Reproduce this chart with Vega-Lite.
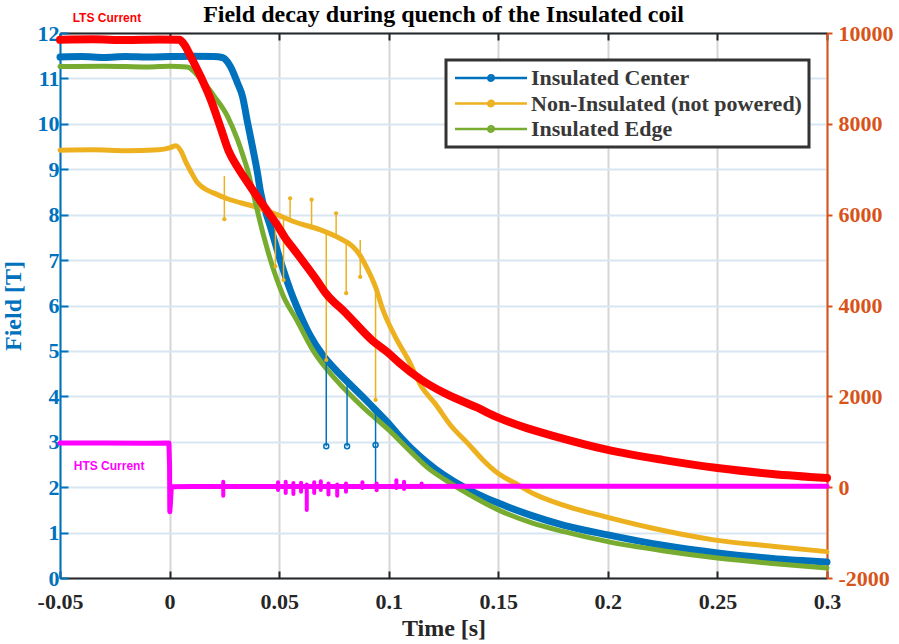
{
  "$schema": "https://vega.github.io/schema/vega-lite/v6.json",
  "width": 767,
  "height": 545,
  "autosize": "none",
  "padding": {"left": 60, "top": 33, "right": 72, "bottom": 66},
  "background": "white",
  "title": {"text": "Field decay during quench of the Insulated coil", "font": "Liberation Serif", "fontSize": 24, "fontWeight": "bold", "color": "#000000", "anchor": "middle", "offset": 10, "dy": 25},
  "config": {"view": {"stroke": null}, "legend": {"strokeWidth": 3}},
  "datasets": {
    "field": [
      {"s": "Insulated Center", "t": -0.05, "v": 11.47},
      {"s": "Insulated Center", "t": -0.04, "v": 11.48},
      {"s": "Insulated Center", "t": -0.03, "v": 11.46},
      {"s": "Insulated Center", "t": -0.02, "v": 11.48},
      {"s": "Insulated Center", "t": -0.01, "v": 11.47},
      {"s": "Insulated Center", "t": 0, "v": 11.48},
      {"s": "Insulated Center", "t": 0.01, "v": 11.49},
      {"s": "Insulated Center", "t": 0.02, "v": 11.48},
      {"s": "Insulated Center", "t": 0.024, "v": 11.46},
      {"s": "Insulated Center", "t": 0.0277, "v": 11.27},
      {"s": "Insulated Center", "t": 0.031, "v": 10.9},
      {"s": "Insulated Center", "t": 0.0333, "v": 10.6},
      {"s": "Insulated Center", "t": 0.0355, "v": 10.05},
      {"s": "Insulated Center", "t": 0.0378, "v": 9.5},
      {"s": "Insulated Center", "t": 0.04, "v": 8.95},
      {"s": "Insulated Center", "t": 0.0415, "v": 8.5},
      {"s": "Insulated Center", "t": 0.046, "v": 7.74},
      {"s": "Insulated Center", "t": 0.0505, "v": 7.0},
      {"s": "Insulated Center", "t": 0.055, "v": 6.35},
      {"s": "Insulated Center", "t": 0.058, "v": 5.98},
      {"s": "Insulated Center", "t": 0.064, "v": 5.35},
      {"s": "Insulated Center", "t": 0.07, "v": 4.9},
      {"s": "Insulated Center", "t": 0.0755, "v": 4.6},
      {"s": "Insulated Center", "t": 0.0837, "v": 4.2},
      {"s": "Insulated Center", "t": 0.09, "v": 3.9},
      {"s": "Insulated Center", "t": 0.095, "v": 3.65},
      {"s": "Insulated Center", "t": 0.1, "v": 3.4},
      {"s": "Insulated Center", "t": 0.105, "v": 3.12},
      {"s": "Insulated Center", "t": 0.1137, "v": 2.7},
      {"s": "Insulated Center", "t": 0.1213, "v": 2.4},
      {"s": "Insulated Center", "t": 0.13, "v": 2.12},
      {"s": "Insulated Center", "t": 0.14, "v": 1.86},
      {"s": "Insulated Center", "t": 0.15, "v": 1.65},
      {"s": "Insulated Center", "t": 0.165, "v": 1.38},
      {"s": "Insulated Center", "t": 0.18, "v": 1.16},
      {"s": "Insulated Center", "t": 0.2, "v": 0.95},
      {"s": "Insulated Center", "t": 0.225, "v": 0.72},
      {"s": "Insulated Center", "t": 0.25, "v": 0.55},
      {"s": "Insulated Center", "t": 0.275, "v": 0.43},
      {"s": "Insulated Center", "t": 0.3, "v": 0.35},

      {"s": "Non-Insulated (not powered)", "t": -0.05, "v": 9.42},
      {"s": "Non-Insulated (not powered)", "t": -0.035, "v": 9.43},
      {"s": "Non-Insulated (not powered)", "t": -0.02, "v": 9.41},
      {"s": "Non-Insulated (not powered)", "t": -0.005, "v": 9.43},
      {"s": "Non-Insulated (not powered)", "t": 0, "v": 9.47},
      {"s": "Non-Insulated (not powered)", "t": 0.003, "v": 9.52},
      {"s": "Non-Insulated (not powered)", "t": 0.0052, "v": 9.4},
      {"s": "Non-Insulated (not powered)", "t": 0.0075, "v": 9.15},
      {"s": "Non-Insulated (not powered)", "t": 0.0097, "v": 8.95},
      {"s": "Non-Insulated (not powered)", "t": 0.0125, "v": 8.72},
      {"s": "Non-Insulated (not powered)", "t": 0.0157, "v": 8.58},
      {"s": "Non-Insulated (not powered)", "t": 0.02, "v": 8.48},
      {"s": "Non-Insulated (not powered)", "t": 0.0264, "v": 8.35},
      {"s": "Non-Insulated (not powered)", "t": 0.0385, "v": 8.18},
      {"s": "Non-Insulated (not powered)", "t": 0.049, "v": 8.0},
      {"s": "Non-Insulated (not powered)", "t": 0.0565, "v": 7.85},
      {"s": "Non-Insulated (not powered)", "t": 0.0686, "v": 7.67},
      {"s": "Non-Insulated (not powered)", "t": 0.0776, "v": 7.48},
      {"s": "Non-Insulated (not powered)", "t": 0.0836, "v": 7.3},
      {"s": "Non-Insulated (not powered)", "t": 0.087, "v": 7.1},
      {"s": "Non-Insulated (not powered)", "t": 0.0897, "v": 6.86},
      {"s": "Non-Insulated (not powered)", "t": 0.0942, "v": 6.38},
      {"s": "Non-Insulated (not powered)", "t": 0.097, "v": 5.95},
      {"s": "Non-Insulated (not powered)", "t": 0.103, "v": 5.31},
      {"s": "Non-Insulated (not powered)", "t": 0.109, "v": 4.8},
      {"s": "Non-Insulated (not powered)", "t": 0.115, "v": 4.21},
      {"s": "Non-Insulated (not powered)", "t": 0.121, "v": 3.85},
      {"s": "Non-Insulated (not powered)", "t": 0.1288, "v": 3.33},
      {"s": "Non-Insulated (not powered)", "t": 0.136, "v": 2.97},
      {"s": "Non-Insulated (not powered)", "t": 0.143, "v": 2.6},
      {"s": "Non-Insulated (not powered)", "t": 0.15, "v": 2.3},
      {"s": "Non-Insulated (not powered)", "t": 0.158, "v": 2.08},
      {"s": "Non-Insulated (not powered)", "t": 0.1664, "v": 1.85},
      {"s": "Non-Insulated (not powered)", "t": 0.18, "v": 1.6},
      {"s": "Non-Insulated (not powered)", "t": 0.1987, "v": 1.35},
      {"s": "Non-Insulated (not powered)", "t": 0.22, "v": 1.1},
      {"s": "Non-Insulated (not powered)", "t": 0.2483, "v": 0.84},
      {"s": "Non-Insulated (not powered)", "t": 0.275, "v": 0.7},
      {"s": "Non-Insulated (not powered)", "t": 0.3, "v": 0.58},

      {"s": "Insulated Edge", "t": -0.05, "v": 11.26},
      {"s": "Insulated Edge", "t": -0.03, "v": 11.27},
      {"s": "Insulated Edge", "t": -0.01, "v": 11.25},
      {"s": "Insulated Edge", "t": 0, "v": 11.27},
      {"s": "Insulated Edge", "t": 0.008, "v": 11.25},
      {"s": "Insulated Edge", "t": 0.0145, "v": 10.97},
      {"s": "Insulated Edge", "t": 0.0205, "v": 10.6},
      {"s": "Insulated Edge", "t": 0.0265, "v": 10.16},
      {"s": "Insulated Edge", "t": 0.031, "v": 9.65},
      {"s": "Insulated Edge", "t": 0.0335, "v": 9.3},
      {"s": "Insulated Edge", "t": 0.0355, "v": 9.0},
      {"s": "Insulated Edge", "t": 0.0385, "v": 8.4},
      {"s": "Insulated Edge", "t": 0.043, "v": 7.52},
      {"s": "Insulated Edge", "t": 0.0475, "v": 6.78},
      {"s": "Insulated Edge", "t": 0.052, "v": 6.2},
      {"s": "Insulated Edge", "t": 0.058, "v": 5.68},
      {"s": "Insulated Edge", "t": 0.0656, "v": 5.0},
      {"s": "Insulated Edge", "t": 0.076, "v": 4.36},
      {"s": "Insulated Edge", "t": 0.088, "v": 3.77},
      {"s": "Insulated Edge", "t": 0.1, "v": 3.26},
      {"s": "Insulated Edge", "t": 0.1107, "v": 2.75},
      {"s": "Insulated Edge", "t": 0.118, "v": 2.42},
      {"s": "Insulated Edge", "t": 0.1258, "v": 2.16},
      {"s": "Insulated Edge", "t": 0.14, "v": 1.75},
      {"s": "Insulated Edge", "t": 0.15, "v": 1.5},
      {"s": "Insulated Edge", "t": 0.165, "v": 1.22},
      {"s": "Insulated Edge", "t": 0.18, "v": 1.02},
      {"s": "Insulated Edge", "t": 0.2, "v": 0.8},
      {"s": "Insulated Edge", "t": 0.225, "v": 0.6},
      {"s": "Insulated Edge", "t": 0.25, "v": 0.44},
      {"s": "Insulated Edge", "t": 0.275, "v": 0.32},
      {"s": "Insulated Edge", "t": 0.3, "v": 0.22}
    ],
    "spikes": [
      {"s": "Insulated Center", "t": 0.0715, "a": 4.75, "b": 2.9, "d": 2.9},
      {"s": "Insulated Center", "t": 0.081, "a": 4.3, "b": 2.9, "d": 2.9},
      {"s": "Insulated Center", "t": 0.094, "a": 3.7, "b": 2.05, "d": 2.93},
      {"s": "Non-Insulated (not powered)", "t": 0.025, "a": 8.85, "b": 7.9, "d": 7.9},
      {"s": "Non-Insulated (not powered)", "t": 0.0483, "a": 8.0, "b": 6.86, "d": 6.86},
      {"s": "Non-Insulated (not powered)", "t": 0.052, "a": 7.93, "b": 6.56, "d": 6.56},
      {"s": "Non-Insulated (not powered)", "t": 0.055, "a": 8.36, "b": 7.85, "d": 8.36},
      {"s": "Non-Insulated (not powered)", "t": 0.0648, "a": 8.33, "b": 7.7, "d": 8.33},
      {"s": "Non-Insulated (not powered)", "t": 0.0715, "a": 7.62, "b": 4.8, "d": 4.8},
      {"s": "Non-Insulated (not powered)", "t": 0.076, "a": 8.03, "b": 7.5, "d": 8.03},
      {"s": "Non-Insulated (not powered)", "t": 0.0806, "a": 7.45, "b": 6.27, "d": 6.27},
      {"s": "Non-Insulated (not powered)", "t": 0.087, "a": 7.44, "b": 6.63, "d": 6.63},
      {"s": "Non-Insulated (not powered)", "t": 0.094, "a": 6.45, "b": 3.92, "d": 3.92}
    ],
    "lts": [
      {"t": -0.05, "i": 9850},
      {"t": -0.035, "i": 9860},
      {"t": -0.02, "i": 9845},
      {"t": -0.005, "i": 9855},
      {"t": 0.0045, "i": 9850},
      {"t": 0.0065, "i": 9760},
      {"t": 0.0105, "i": 9400},
      {"t": 0.0144, "i": 9020},
      {"t": 0.0189, "i": 8520},
      {"t": 0.0234, "i": 7900},
      {"t": 0.027, "i": 7400},
      {"t": 0.031, "i": 7050},
      {"t": 0.036, "i": 6680},
      {"t": 0.0443, "i": 6100},
      {"t": 0.049, "i": 5780},
      {"t": 0.0533, "i": 5450},
      {"t": 0.0565, "i": 5250},
      {"t": 0.0623, "i": 4880},
      {"t": 0.067, "i": 4570},
      {"t": 0.0713, "i": 4270},
      {"t": 0.0805, "i": 3830},
      {"t": 0.0925, "i": 3230},
      {"t": 0.1, "i": 2950},
      {"t": 0.1045, "i": 2750},
      {"t": 0.115, "i": 2360},
      {"t": 0.1255, "i": 2070},
      {"t": 0.14, "i": 1760},
      {"t": 0.15, "i": 1530},
      {"t": 0.163, "i": 1300},
      {"t": 0.175, "i": 1130},
      {"t": 0.2, "i": 820},
      {"t": 0.225, "i": 600},
      {"t": 0.25, "i": 420},
      {"t": 0.275, "i": 290},
      {"t": 0.3, "i": 200}
    ],
    "hts": [
      {"t": -0.05, "i": 970},
      {"t": -0.03, "i": 975},
      {"t": -0.01, "i": 968},
      {"t": -0.0003, "i": 972},
      {"t": 0, "i": 460},
      {"t": 0.0001, "i": -540},
      {"t": 0.0004, "i": -350},
      {"t": 0.0008, "i": 10},
      {"t": 0.01, "i": 12},
      {"t": 0.05, "i": 15},
      {"t": 0.1, "i": 15},
      {"t": 0.15, "i": 18},
      {"t": 0.2, "i": 18},
      {"t": 0.25, "i": 20},
      {"t": 0.3, "i": 20}
    ],
    "htsSpikes": [
      {"t": 0.0245, "hi": 120, "lo": -190},
      {"t": 0.0495, "hi": 110, "lo": -60},
      {"t": 0.053, "hi": 120, "lo": -130},
      {"t": 0.0565, "hi": 90, "lo": -150},
      {"t": 0.06, "hi": 100, "lo": -100},
      {"t": 0.0626, "hi": 60, "lo": -500},
      {"t": 0.066, "hi": 110, "lo": -130},
      {"t": 0.069, "hi": 130, "lo": -60},
      {"t": 0.0725, "hi": 80, "lo": -160},
      {"t": 0.0765, "hi": 60, "lo": -190},
      {"t": 0.0805, "hi": 80, "lo": -100},
      {"t": 0.088, "hi": 110, "lo": -20},
      {"t": 0.0945, "hi": 80, "lo": -70},
      {"t": 0.1035, "hi": 150, "lo": -20},
      {"t": 0.107, "hi": 120, "lo": -40},
      {"t": 0.115, "hi": 80, "lo": 0}
    ],
    "labels": [
      {"t": -0.0286, "i": 10330, "label": "LTS Current"},
      {"t": -0.0276, "i": 466, "label": "HTS Current"}
    ]
  },
  "layer": [
    {
      "data": {"name": "field"},
      "transform": [{"filter": "datum.s === 'Insulated Center'"}],
      "mark": {"type": "line", "interpolate": "monotone", "strokeCap": "round", "strokeJoin": "round", "strokeWidth": 7},
      "encoding": {
        "x": {"field": "t", "type": "quantitative", "scale": {"domain": [-0.05, 0.3], "nice": false, "zero": false},
          "axis": {"orient": "bottom", "values": [-0.05, 0, 0.05, 0.1, 0.15, 0.2, 0.25, 0.3], "labelExpr": "'' + datum.value", "title": "Time [s]",
            "labelFlush": false, "labelOverlap": false,
            "titleFont": "Liberation Serif", "titleFontSize": 24, "titleFontWeight": "bold", "titleColor": "#262626", "titlePadding": 4,
            "labelFont": "Liberation Serif", "labelFontSize": 22, "labelFontWeight": "bold", "labelColor": "#262626", "labelPadding": 20,
            "domainColor": "#262626", "domainWidth": 2, "tickColor": "#262626", "tickWidth": 2, "tickSize": -7,
            "grid": true, "gridColor": "#d6d6d6", "gridWidth": 2}},
        "y": {"field": "v", "type": "quantitative", "scale": {"domain": [0, 12], "nice": false, "zero": false},
          "axis": {"orient": "left", "values": [0, 1, 2, 3, 4, 5, 6, 7, 8, 9, 10, 11, 12], "title": "Field [T]",
            "labelFlush": false, "labelOverlap": false,
            "titleFont": "Liberation Serif", "titleFontSize": 24, "titleFontWeight": "bold", "titleColor": "#0072BD", "titlePadding": 12,
            "labelFont": "Liberation Serif", "labelFontSize": 22, "labelFontWeight": "bold", "labelColor": "#0072BD", "labelPadding": 9,
            "domainColor": "#0072BD", "domainWidth": 2, "tickColor": "#0072BD", "tickWidth": 2, "tickSize": -8,
            "grid": true, "gridColor": "#d7e6f2", "gridWidth": 2}},
        "color": {"field": "s", "type": "nominal",
          "scale": {"domain": ["Insulated Center", "Non-Insulated (not powered)", "Insulated Edge"], "range": ["#0072BD", "#EDB120", "#77AC30"]},
          "legend": {"orient": "none", "legendX": 386, "legendY": 27, "title": null, "direction": "vertical",
            "symbolType": "M-1,0L7,0M2.7,0A0.3,0.3 0 1,1 3.3,0A0.3,0.3 0 1,1 2.7,0", "symbolSize": 324, "symbolStrokeWidth": 2.5,
            "labelOffset": 56, "labelLimit": 500, "labelFont": "Liberation Serif", "labelFontWeight": "bold", "labelFontSize": 22, "labelColor": "#383838",
            "padding": 7, "rowPadding": 3.5, "strokeColor": "#333333", "fillColor": "#ffffff"}}
      }
    },
    {
      "data": {"name": "field"},
      "transform": [{"filter": "datum.s === 'Non-Insulated (not powered)'"}],
      "mark": {"type": "line", "interpolate": "monotone", "strokeCap": "round", "strokeJoin": "round", "strokeWidth": 5},
      "encoding": {
        "x": {"field": "t", "type": "quantitative", "scale": {"domain": [-0.05, 0.3], "nice": false, "zero": false}, "axis": null},
        "y": {"field": "v", "type": "quantitative", "scale": {"domain": [0, 12], "nice": false, "zero": false}, "axis": null},
        "color": {"field": "s", "type": "nominal",
          "scale": {"domain": ["Insulated Center", "Non-Insulated (not powered)", "Insulated Edge"], "range": ["#0072BD", "#EDB120", "#77AC30"]}}
      }
    },
    {
      "data": {"name": "field"},
      "transform": [{"filter": "datum.s === 'Insulated Edge'"}],
      "mark": {"type": "line", "interpolate": "monotone", "strokeCap": "round", "strokeJoin": "round", "strokeWidth": 5},
      "encoding": {
        "x": {"field": "t", "type": "quantitative", "scale": {"domain": [-0.05, 0.3], "nice": false, "zero": false}, "axis": null},
        "y": {"field": "v", "type": "quantitative", "scale": {"domain": [0, 12], "nice": false, "zero": false}, "axis": null},
        "color": {"field": "s", "type": "nominal",
          "scale": {"domain": ["Insulated Center", "Non-Insulated (not powered)", "Insulated Edge"], "range": ["#0072BD", "#EDB120", "#77AC30"]}}
      }
    },
    {
      "data": {"name": "spikes"},
      "transform": [{"filter": "datum.s === 'Insulated Center'"}],
      "mark": {"type": "rule", "color": "#0072BD", "strokeWidth": 1.5},
      "encoding": {
        "x": {"field": "t", "type": "quantitative", "scale": {"domain": [-0.05, 0.3], "nice": false, "zero": false}, "axis": null},
        "y": {"field": "a", "type": "quantitative", "scale": {"domain": [0, 12], "nice": false, "zero": false}, "axis": null},
        "y2": {"field": "b"}
      }
    },
    {
      "data": {"name": "spikes"},
      "transform": [{"filter": "datum.s === 'Insulated Center'"}],
      "mark": {"type": "point", "color": "#0072BD", "filled": false, "size": 25, "strokeWidth": 1.5, "opacity": 1},
      "encoding": {
        "x": {"field": "t", "type": "quantitative", "scale": {"domain": [-0.05, 0.3], "nice": false, "zero": false}, "axis": null},
        "y": {"field": "d", "type": "quantitative", "scale": {"domain": [0, 12], "nice": false, "zero": false}, "axis": null}
      }
    },
    {
      "data": {"name": "spikes"},
      "transform": [{"filter": "datum.s === 'Non-Insulated (not powered)'"}],
      "mark": {"type": "rule", "color": "#EDB120", "strokeWidth": 1.5},
      "encoding": {
        "x": {"field": "t", "type": "quantitative", "scale": {"domain": [-0.05, 0.3], "nice": false, "zero": false}, "axis": null},
        "y": {"field": "a", "type": "quantitative", "scale": {"domain": [0, 12], "nice": false, "zero": false}, "axis": null},
        "y2": {"field": "b"}
      }
    },
    {
      "data": {"name": "spikes"},
      "transform": [{"filter": "datum.s === 'Non-Insulated (not powered)'"}],
      "mark": {"type": "point", "color": "#EDB120", "filled": true, "size": 18, "opacity": 1},
      "encoding": {
        "x": {"field": "t", "type": "quantitative", "scale": {"domain": [-0.05, 0.3], "nice": false, "zero": false}, "axis": null},
        "y": {"field": "d", "type": "quantitative", "scale": {"domain": [0, 12], "nice": false, "zero": false}, "axis": null}
      }
    },
    {
      "data": {"name": "lts"},
      "mark": {"type": "line", "color": "#FF0000", "strokeWidth": 8, "interpolate": "monotone", "strokeCap": "round", "strokeJoin": "round"},
      "encoding": {
        "x": {"field": "t", "type": "quantitative", "scale": {"domain": [-0.05, 0.3], "nice": false, "zero": false},
          "axis": {"orient": "top", "values": [-0.05, 0, 0.05, 0.1, 0.15, 0.2, 0.25, 0.3], "labels": false, "title": null,
            "domainColor": "#262626", "domainWidth": 2, "tickColor": "#262626", "tickWidth": 2, "tickSize": -7, "grid": false}},
        "y": {"field": "i", "type": "quantitative", "scale": {"domain": [-2000, 10000], "nice": false, "zero": false},
          "axis": {"orient": "right", "values": [-2000, 0, 2000, 4000, 6000, 8000, 10000], "labelExpr": "'' + datum.value", "title": null,
            "labelFlush": false, "labelOverlap": false,
            "labelFont": "Liberation Serif", "labelFontSize": 22, "labelFontWeight": "bold", "labelColor": "#D95319", "labelPadding": 6,
            "domainColor": "#D95319", "domainWidth": 2, "tickColor": "#D95319", "tickWidth": 2, "tickSize": 5, "grid": false}}
      }
    },
    {
      "data": {"name": "hts"},
      "mark": {"type": "line", "color": "#FF00FF", "strokeWidth": 5, "strokeCap": "round", "strokeJoin": "round"},
      "encoding": {
        "x": {"field": "t", "type": "quantitative", "scale": {"domain": [-0.05, 0.3], "nice": false, "zero": false}, "axis": null},
        "y": {"field": "i", "type": "quantitative", "scale": {"domain": [-2000, 10000], "nice": false, "zero": false}, "axis": null}
      }
    },
    {
      "data": {"name": "htsSpikes"},
      "mark": {"type": "rule", "color": "#FF00FF", "strokeWidth": 4, "strokeCap": "round"},
      "encoding": {
        "x": {"field": "t", "type": "quantitative", "scale": {"domain": [-0.05, 0.3], "nice": false, "zero": false}, "axis": null},
        "y": {"field": "hi", "type": "quantitative", "scale": {"domain": [-2000, 10000], "nice": false, "zero": false}, "axis": null},
        "y2": {"field": "lo"}
      }
    },
    {
      "data": {"name": "labels"},
      "transform": [{"filter": "datum.label === 'LTS Current'"}],
      "mark": {"type": "text", "color": "#FF0000", "font": "Liberation Sans", "fontSize": 12, "fontWeight": "bold", "align": "center", "baseline": "middle"},
      "encoding": {
        "x": {"field": "t", "type": "quantitative", "scale": {"domain": [-0.05, 0.3], "nice": false, "zero": false}, "axis": null},
        "y": {"field": "i", "type": "quantitative", "scale": {"domain": [-2000, 10000], "nice": false, "zero": false}, "axis": null},
        "text": {"field": "label"}
      }
    },
    {
      "data": {"name": "labels"},
      "transform": [{"filter": "datum.label === 'HTS Current'"}],
      "mark": {"type": "text", "color": "#FF00FF", "font": "Liberation Sans", "fontSize": 12, "fontWeight": "bold", "align": "center", "baseline": "middle"},
      "encoding": {
        "x": {"field": "t", "type": "quantitative", "scale": {"domain": [-0.05, 0.3], "nice": false, "zero": false}, "axis": null},
        "y": {"field": "i", "type": "quantitative", "scale": {"domain": [-2000, 10000], "nice": false, "zero": false}, "axis": null},
        "text": {"field": "label"}
      }
    }
  ],
  "resolve": {"scale": {"y": "independent"}}
}
